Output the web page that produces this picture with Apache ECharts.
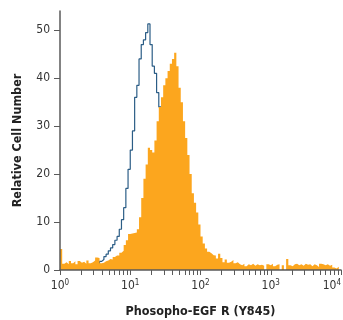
<!DOCTYPE html>
<html>
<head>
<meta charset="utf-8">
<script src="https://cdn.jsdelivr.net/npm/echarts@6/dist/echarts.min.js"></script>
<style>
  html, body { margin: 0; padding: 0; background: #fff; }
  #chart { width: 343px; height: 320px; }
</style>
</head>
<body>
<div id="chart"></div>
<script>
// histogram bins: 32 per decade, from 10^0 to 10^4
const binsPerDecade = 32;

// stained sample (orange, filled)
const orangeCounts = [
  4.4, 1.3, 1.6, 1.2, 1.9, 1.4, 1.8, 1.2, 1.9, 1.5, 1.7, 1.3, 2.0, 1.4, 1.6, 2.0,
  2.6, 2.5, 1.4, 1.5, 1.8, 2.0, 2.3, 2.2, 2.7, 3.0, 3.0, 3.6, 4.0, 5.2, 6.2, 7.5,
  7.6, 7.7, 7.8, 8.5, 11, 15, 19, 22, 25.5, 25, 24.5, 27, 31, 34, 36, 38.5,
  40, 41.5, 43, 44, 45.3, 42.5, 38, 35, 31, 27.5, 24, 20, 16, 14, 12, 9.5,
  7, 5.5, 4.5, 3.8, 3.5, 3.1, 3.0, 2.4, 3.4, 2.5, 1.6, 2.2, 1.5, 1.7, 2.1, 1.4,
  1.6, 1.2, 1.0, 1.3, 0.8, 1.2, 1.0, 1.3, 0.9, 1.2, 1.0, 1.1, 0.9, 0, 1.2, 1.0,
  1.3, 0.8, 1.1, 1.2, 0, 1.0, 0, 2.3, 1.0, 0.8, 1.2, 1.3, 1.0, 1.2, 0.9, 1.3,
  1.1, 1.2, 0.8, 1.2, 1.0, 0.6, 1.3, 1.2, 1.0, 1.2, 0.9, 1.1, 0.5, 0.3, 0.7, 0
];

// isotype control (blue outline)
const blueCounts = [
  0.5, 0.5, 0.5, 0.5, 0.5, 0.5, 0.5, 0.5, 0.5, 0.5, 0.5, 0.5, 0.5, 0.5, 0.5, 0.5,
  0.8, 1.2, 1.8, 2.2, 2.8, 3.3, 4.0, 4.6, 5.3, 6.2, 7.0, 8.5, 10.5, 13, 17, 21,
  25, 29, 36, 38.5, 44, 47, 48, 49.5, 51.3, 47, 42.5, 41, 37, 34, 31.5, 28,
  22, 17, 12, 8, 5, 3, 1.5, 0.8
];

const yTicks = [0, 10, 20, 30, 40, 50];
const xDecades = [1, 10, 100, 1000, 10000];

function toSteps(counts) {
  const pts = counts.map((c, i) => [Math.pow(10, i / binsPerDecade), c]);
  pts.push([Math.pow(10, counts.length / binsPerDecade), counts[counts.length - 1]]);
  return pts;
}

// log minor ticks at 2..9 of each decade
const xTickValues = [];
xDecades.forEach((d, k) => {
  if (k === xDecades.length - 1) { xTickValues.push(d); return; }
  for (let m = 1; m <= 9; m++) xTickValues.push(d * m);
});

const font = '"Liberation Sans Narrow", "DejaVu Sans Condensed", sans-serif';
const axisColor = '#5a5a5a';

const myChart = echarts.init(document.getElementById('chart'));
myChart.setOption({
  animation: false,
  grid: { left: 60, right: 2, top: 11, bottom: 50, outerBoundsMode: 'none', containLabel: false },
  xAxis: {
    type: 'log',
    logBase: 10,
    min: 1,
    max: 10000,
    z: 5,
    name: 'Phosopho-EGF R (Y845)',
    nameLocation: 'middle',
    nameGap: 35,
    nameTextStyle: { fontFamily: font, fontWeight: 'bold', fontSize: 12.5, color: '#222' },
    axisLine: { lineStyle: { color: axisColor, width: 1.5 } },
    splitLine: { show: false },
    axisTick: { length: 5, lineStyle: { color: axisColor }, customValues: xTickValues },
    axisLabel: {
      customValues: xDecades,
      margin: 9,
      alignMaxLabel: 'right',
      formatter: v => '{b|10}{s|' + Math.round(Math.log10(v)) + '}',
      rich: {
        b: { fontFamily: font, fontSize: 12, color: '#333' },
        s: { fontFamily: font, fontSize: 8, color: '#333', padding: [0, 0, 6, 0] }
      }
    }
  },
  yAxis: {
    type: 'value',
    min: 0,
    max: 54,
    z: 5,
    name: 'Relative Cell Number',
    nameLocation: 'middle',
    nameGap: 36,
    nameTextStyle: { fontFamily: font, fontWeight: 'bold', fontSize: 12.5, color: '#222' },
    axisLine: { show: true, lineStyle: { color: axisColor, width: 1.5 } },
    splitLine: { show: false },
    axisTick: { show: true, length: 6, lineStyle: { color: axisColor }, customValues: yTicks },
    axisLabel: { customValues: yTicks, margin: 10, fontFamily: font, fontSize: 12, color: '#333' }
  },
  series: [
    {
      name: 'control',
      type: 'line',
      step: 'end',
      showSymbol: false,
      z: 1,
      data: toSteps(blueCounts),
      lineStyle: { color: '#2b5d86', width: 1.2 }
    },
    {
      name: 'stained',
      type: 'line',
      step: 'end',
      showSymbol: false,
      z: 2,
      data: toSteps(orangeCounts),
      lineStyle: { width: 0 },
      areaStyle: { color: '#fca61e', opacity: 1 }
    }
  ]
});
</script>
</body>
</html>
